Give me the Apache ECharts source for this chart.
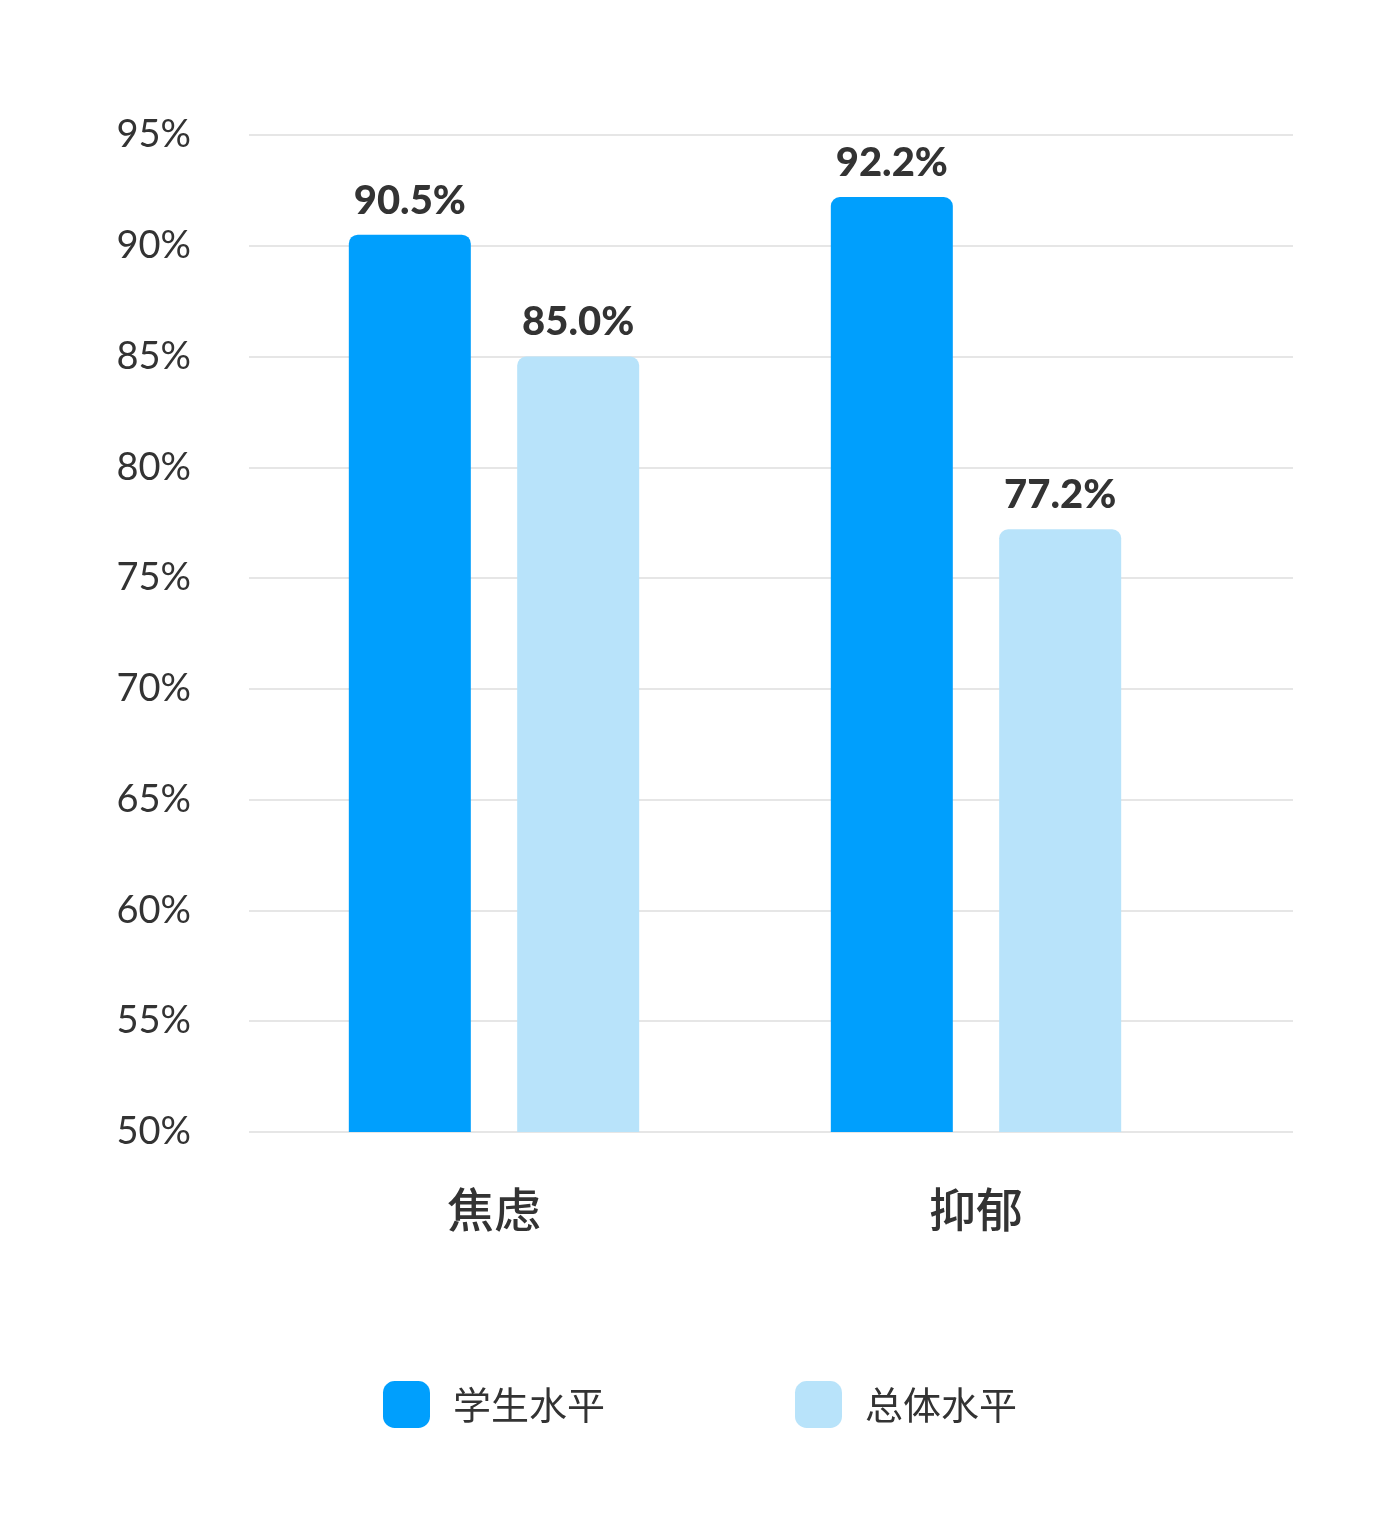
<!DOCTYPE html>
<html>
<head>
<meta charset="utf-8">
<title>焦虑 抑郁</title>
<script src="https://cdn.jsdelivr.net/npm/echarts@6/dist/echarts.min.js"></script>
<style>
  html, body { margin: 0; padding: 0; background: #fff; }
  #main { width: 1400px; height: 1540px; }
</style>
</head>
<body>
<div id="main"></div>
<script>
// 数据
var categories = ['焦虑', '抑郁']
var seriesNames = ['学生水平', '总体水平']
var studentValues = [90.5, 92.2]
var totalValues = [85.0, 77.2]
var colors = ['#009ffd', '#b8e3fa']

var yMin = 50, yMax = 95, yStep = 5

var myChart = echarts.init(document.getElementById('main'))

var cjk = '"Noto Sans CJK SC", "Noto Sans", sans-serif'
var latin = 'Lato, "Noto Sans", sans-serif'

function barLabel() {
    return {
        show: true,
        position: 'top',
        distance: 14,
        fontFamily: latin,
        fontWeight: 900,
        fontSize: 40,
        color: '#333333',
        formatter: function(p) { return p.value.toFixed(1) + '%' }
    }
}

var option = {
    backgroundColor: '#ffffff',
    color: colors,
    // grid 0 只画刻度和网格线, grid 1 放柱子
    grid: [
        { left: 249, right: 107, top: 135, bottom: 408 },
        { left: 253, right: 183, top: 135, bottom: 408 }
    ],
    xAxis: [{
        gridIndex: 0,
        type: 'category',
        data: categories,
        show: false
    }, {
        gridIndex: 1,
        type: 'category',
        data: categories,
        axisLine: { show: false },
        axisTick: { show: false },
        axisLabel: {
            margin: 54,
            fontFamily: cjk,
            fontSize: 47,
            fontWeight: 500,
            color: '#333333'
        }
    }],
    yAxis: [{
        gridIndex: 0,
        type: 'value',
        min: yMin,
        max: yMax,
        interval: yStep,
        axisLine: { show: false },
        axisTick: { show: false },
        axisLabel: {
            margin: 58,
            fontFamily: latin,
            fontSize: 38,
            color: '#333333',
            formatter: '{value}%'
        },
        splitLine: { lineStyle: { color: '#e6e6e6', width: 2 } }
    }, {
        gridIndex: 1,
        type: 'value',
        min: yMin,
        max: yMax,
        interval: yStep,
        show: false,
        splitLine: { show: false }
    }],
    legend: {
        left: 'center',
        top: 1376,
        icon: 'roundRect',
        itemWidth: 47,
        itemHeight: 47,
        itemGap: 190,
        data: seriesNames,
        textStyle: {
            fontFamily: cjk,
            fontSize: 38,
            color: '#333333',
            padding: [0, 0, 0, 18]
        }
    },
    series: [{
        name: seriesNames[0],
        type: 'bar',
        xAxisIndex: 1,
        yAxisIndex: 1,
        barWidth: 122,
        barGap: '38%',
        data: studentValues,
        itemStyle: { color: colors[0], borderRadius: [9, 9, 0, 0] },
        label: barLabel()
    }, {
        name: seriesNames[1],
        type: 'bar',
        xAxisIndex: 1,
        yAxisIndex: 1,
        barWidth: 122,
        data: totalValues,
        itemStyle: { color: colors[1], borderRadius: [9, 9, 0, 0] },
        label: barLabel()
    }]
}

myChart.setOption(option)
</script>
</body>
</html>
